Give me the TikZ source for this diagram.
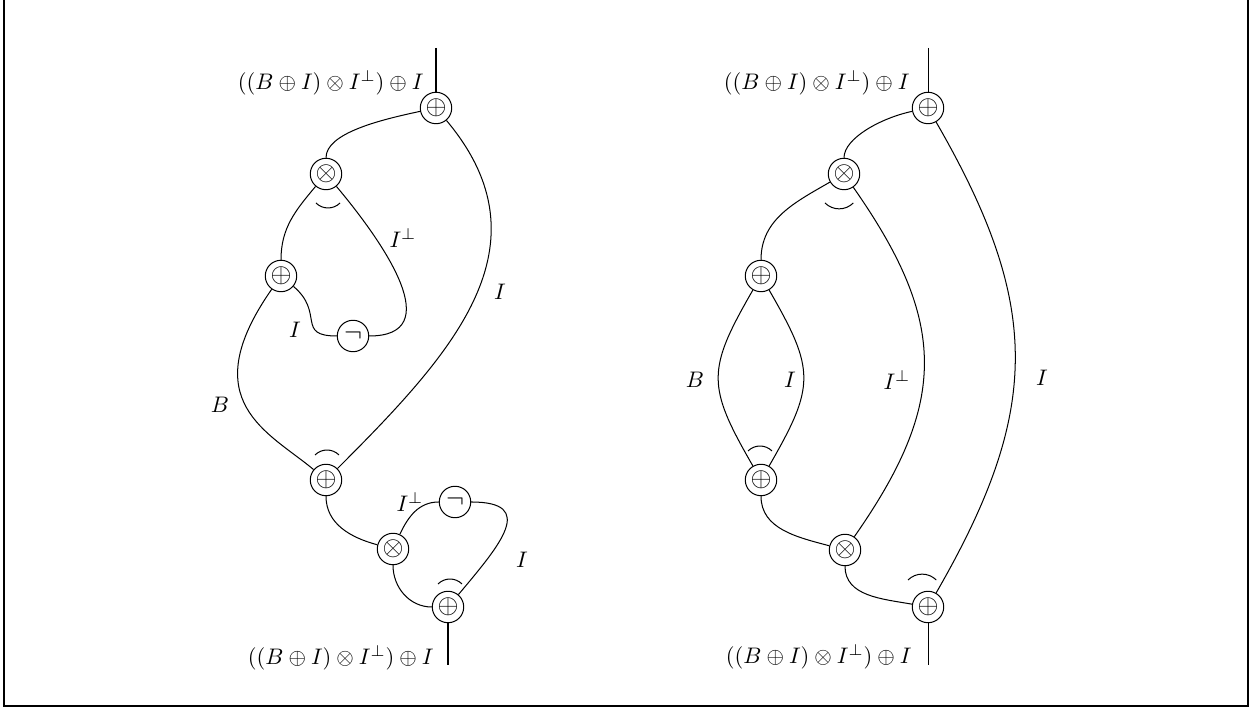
\documentclass[tikz,border=0pt]{standalone}
\begin{document}
\begin{tikzpicture}[x=0.445pt,y=0.445pt,
  gate/.style={draw,circle,minimum size=14pt,inner sep=0pt,line width=0.45pt,font=\large},
  wire/.style={line width=0.45pt},
  lab/.style={inner sep=0pt},
  frame/.style={line width=0.7pt}]
\useasboundingbox (0,0) rectangle (1252,715);
\coordinate (f1) at (4,716);
\coordinate (f2) at (4,9);
\coordinate (f3) at (1248,9);
\coordinate (f4) at (1248,716);
\draw[frame] (f1) -- (f2) -- (f3) -- (f4);
% ---------- left diagram ----------
\node[gate] (p1) at (436,607) {$\oplus$};
\node[gate] (t1) at (326,541) {$\otimes$};
\node[gate] (p2) at (281,439) {$\oplus$};
\node[gate] (n1) at (353,379) {$\neg$};
\node[gate] (p3) at (326,235) {$\oplus$};
\node[gate] (t2) at (393,166) {$\otimes$};
\node[gate] (n2) at (455,213) {$\neg$};
\node[gate] (p4) at (448,108) {$\oplus$};
\coordinate (a1) at (436,667);
\coordinate (a2) at (448,50);
\draw[wire] (a1) -- (p1);
\draw[wire] (p4) -- (a2);
\node[lab,anchor=east] (lt) at (424,632) {$((B\oplus I)\otimes I^\perp)\oplus I$};
\node[lab,anchor=east] (lb) at (434,57) {$((B\oplus I)\otimes I^\perp)\oplus I$};
\draw[wire] (p1) to[out=192,in=90,out looseness=1,in looseness=0.6] (t1);
\draw[wire] (t1) to[out=230,in=90] (p2);
\draw[wire] (t1) to[out=-50,in=0,looseness=1.3] (n1);
\draw[wire] (p2) to[out=-40,in=180,looseness=1.6] (n1);
\draw[wire] (p2) to[out=235,in=140,out looseness=1.9,in looseness=0.8] (p3);
\draw[wire] (p1) to[out=-50,in=45,looseness=1.15] (p3);
\draw[wire] (p3) to[out=-90,in=165] (t2);
\draw[wire] (t2) to[out=65,in=180] (n2);
\draw[wire] (n2) to[out=0,in=50,looseness=1.8] (p4);
\draw[wire] (t2) to[out=-90,in=180] (p4);
\node[lab] (la1) at (403,477) {$I^\perp$};
\node[lab] (la2) at (295,385) {$I$};
\node[lab] (la3) at (220,310) {$B$};
\node[lab] (la4) at (500,423) {$I$};
\node[lab] (la5) at (410,213) {$I^\perp$};
\node[lab] (la6) at (522,155) {$I$};
% smile / frown marks
\coordinate (s1) at (328,512);
\coordinate (s2) at (327,260);
\coordinate (s3) at (450,131);
\draw[wire] (s1) ++(-12,0) arc[start angle=225,end angle=315,radius=17];
\draw[wire] (s2) ++(-12,0) arc[start angle=135,end angle=45,radius=17];
\draw[wire] (s3) ++(-12,0) arc[start angle=135,end angle=45,radius=17];
% ---------- right diagram ----------
\node[gate] (q1) at (928,607) {$\oplus$};
\node[gate] (u1) at (844,541) {$\otimes$};
\node[gate] (q2) at (761,439) {$\oplus$};
\node[gate] (q3) at (761,235) {$\oplus$};
\node[gate] (u2) at (845,165) {$\otimes$};
\node[gate] (q4) at (928,108) {$\oplus$};
\coordinate (b1) at (928,667);
\coordinate (b2) at (928,50);
\draw[wire] (b1) -- (q1);
\draw[wire] (q4) -- (b2);
\node[lab,anchor=east] (rt) at (910,632) {$((B\oplus I)\otimes I^\perp)\oplus I$};
\node[lab,anchor=east] (rb) at (912,58) {$((B\oplus I)\otimes I^\perp)\oplus I$};
\draw[wire] (q1) to[out=192,in=90,out looseness=1,in looseness=0.6] (u1);
\draw[wire] (u1) to[out=210,in=90] (q2);
\draw[wire] (q2) to[out=240,in=120,looseness=1.35] (q3);
\draw[wire] (q2) to[out=-60,in=60,looseness=1.35] (q3);
\draw[wire] (u1) to[out=-55,in=55,looseness=1.2] (u2);
\draw[wire] (q1) to[out=-60,in=60,looseness=1.15] (q4);
\draw[wire] (q3) to[out=-90,in=165] (u2);
\draw[wire] (u2) to[out=-90,in=170] (q4);
\node[lab] (lr1) at (695,335) {$B$};
\node[lab] (lr2) at (790,335) {$I$};
\node[lab] (lr3) at (897,335) {$I^\perp$};
\node[lab] (lr4) at (1042,337) {$I$};
\coordinate (r1) at (839,512);
\coordinate (r2) at (760,264);
\coordinate (r3) at (922,135);
\draw[wire] (r1) ++(-14,0) arc[start angle=225,end angle=315,radius=20];
\draw[wire] (r2) ++(-12,0) arc[start angle=135,end angle=45,radius=17];
\draw[wire] (r3) ++(-14,0) arc[start angle=135,end angle=45,radius=20];
\end{tikzpicture}
\end{document}
